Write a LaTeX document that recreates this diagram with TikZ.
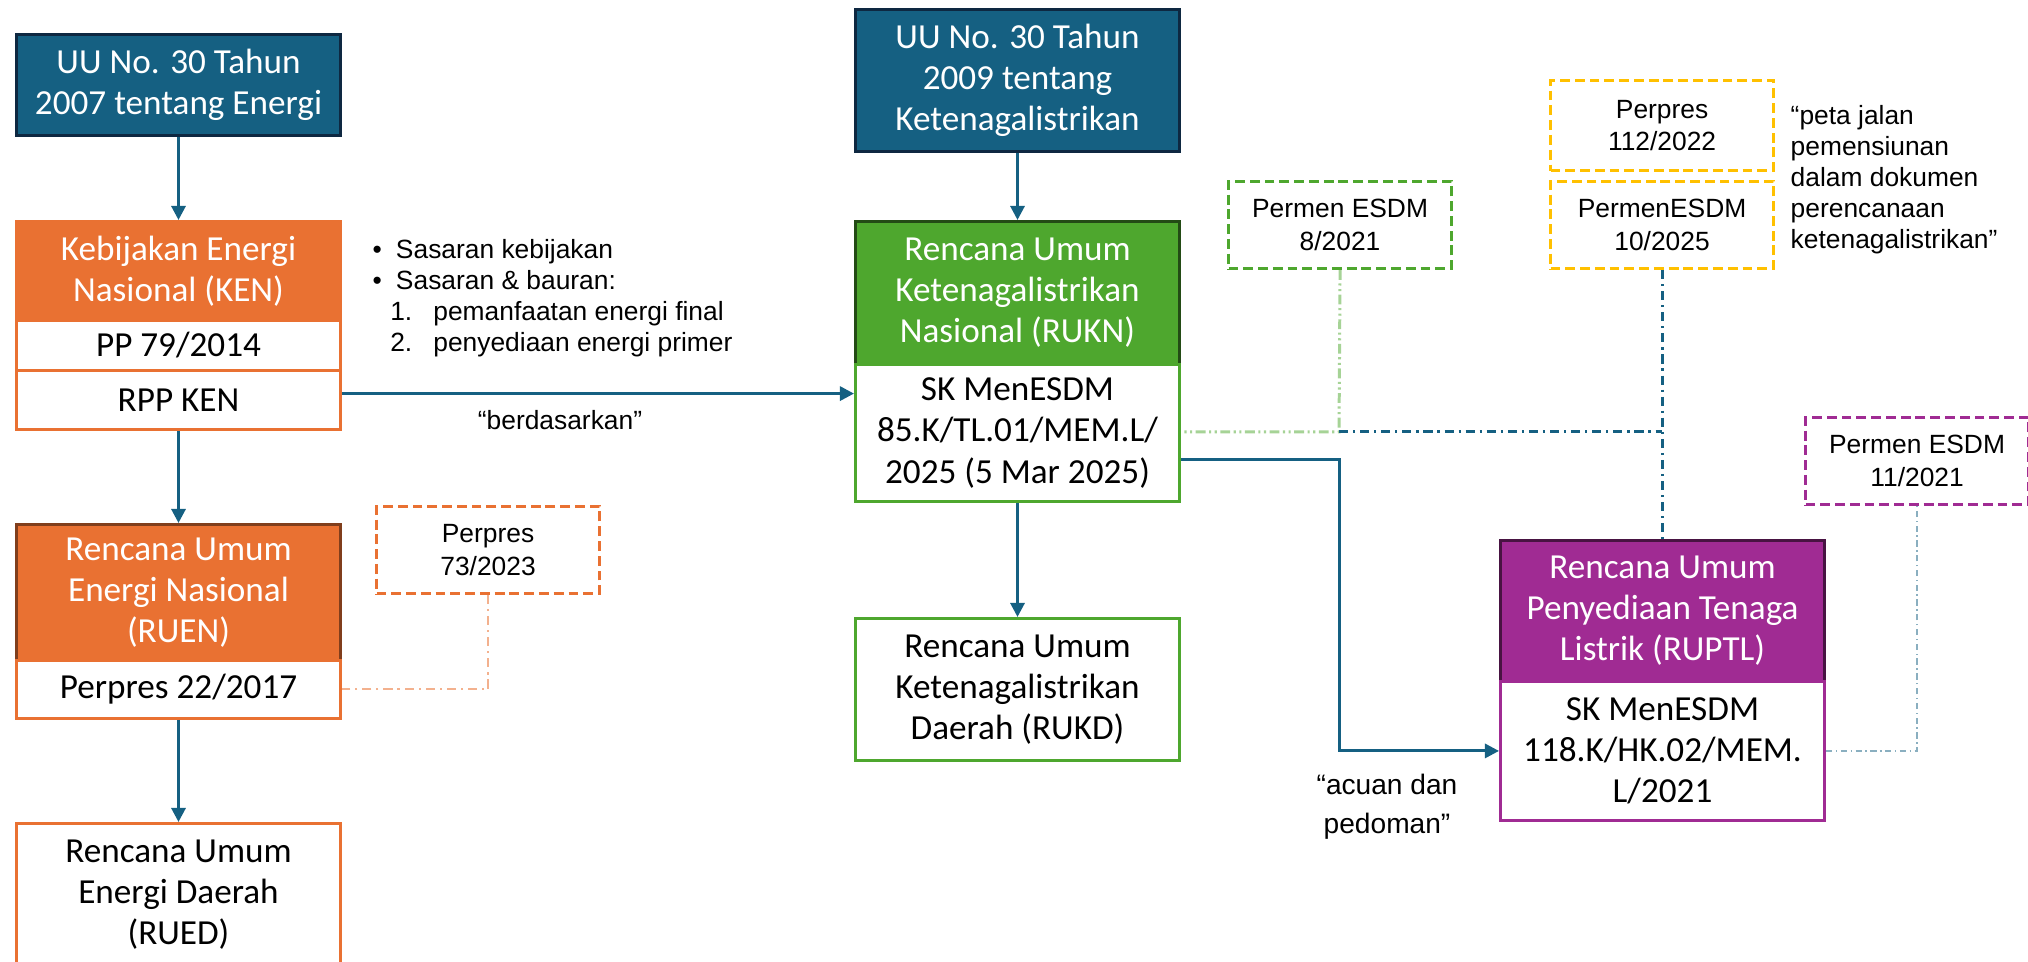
\documentclass[tikz,border=0pt]{standalone}
\usepackage{fontspec}
\setmainfont{Carlito}
\newfontfamily\notefont{Liberation Sans}
\usetikzlibrary{arrows.meta}

\definecolor{lawblue}{HTML}{156082}
\definecolor{lawdark}{HTML}{0E2841}
\definecolor{kenorange}{HTML}{E97132}
\definecolor{ruknGreen}{HTML}{4EA72E}
\definecolor{ruptlPurple}{HTML}{A02B93}
\definecolor{refyellow}{HTML}{FFC000}

\begin{document}
\begin{tikzpicture}[x=0.01cm,y=-0.01cm,
    box/.style={draw, anchor=north west, align=center, inner sep=0pt,
      minimum width=3.24cm, line width=0.8pt, font=\fontsize{10}{11.7}\selectfont},
    head/.style={box, text=white},
    row/.style={box, fill=white, text=black},
    refbox/.style={draw, anchor=north west, align=center, inner sep=0pt,
      minimum width=2.23cm, minimum height=0.87cm, line width=0.85pt,
      dash pattern=on 2.8pt off 1.4pt, font=\notefont\fontsize{7.5}{9.3}\selectfont},
    note/.style={align=left, inner sep=0pt, font=\notefont\fontsize{7.5}{8.8}\selectfont},
    link/.style={draw=lawblue, line width=0.85pt, -{Triangle[length=4pt,width=4pt]}},
    dashdot/.style={line width=0.85pt, dash pattern=on 2.6pt off 1.4pt on 0.6pt off 1.4pt},
    dashdotdot/.style={line width=0.85pt, dash pattern=on 2.8pt off 1pt on 0.6pt off 1pt on 0.6pt off 1pt},
    thindashdot/.style={line width=0.6pt, dash pattern=on 1.8pt off 1pt on 0.4pt off 1pt}]
  \useasboundingbox (0,0) rectangle (2028,962);

  % energi
  \node[head, fill=lawblue, draw=lawdark, minimum height=1.01cm] (uuE) at (15,33) {UU No. 30 Tahun\\2007 tentang Energi};
  \node[head, fill=kenorange, draw=kenorange, minimum height=0.99cm] (ken) at (15,220) {Kebijakan Energi\\Nasional (KEN)};
  \node[row, draw=kenorange, minimum height=0.5cm] (pp79) at (15,319) {PP 79/2014};
  \node[row, draw=kenorange, minimum height=0.59cm] (rppKen) at (15,369) {RPP KEN};
  \node[head, fill=kenorange, draw=kenorange!55!black, minimum height=1.36cm] (ruen) at (15,523) {Rencana Umum\\Energi Nasional\\(RUEN)};
  \node[row, draw=kenorange, minimum height=0.58cm] (pp22) at (15,659) {Perpres 22/2017};
  \node[row, draw=kenorange, minimum height=1.42cm] (rued) at (15,822) {Rencana Umum\\Energi Daerah\\(RUED)};
  \node[refbox, draw=kenorange] (p73) at (375,505) {Perpres\\73/2023};

  \node[note, anchor=west] (goals) at (372,298) {\textbullet\hspace{4pt}Sasaran kebijakan\\
    \textbullet\hspace{4pt}Sasaran \& bauran:\\
    \hspace{5pt}1.\hspace{6pt}pemanfaatan energi final\\
    \hspace{5pt}2.\hspace{6pt}penyediaan energi primer};
  \node[note] (based) at (560,420) {“berdasarkan”};

  % ketenagalistrikan
  \node[head, fill=lawblue, draw=lawdark, minimum height=1.42cm] (uuK) at (854,8) {UU No. 30 Tahun\\2009 tentang\\Ketenagalistrikan};
  \node[head, fill=ruknGreen, draw=ruknGreen!45!black, minimum height=1.43cm] (rukn) at (854,220) {Rencana Umum\\Ketenagalistrikan\\Nasional (RUKN)};
  \node[row, draw=ruknGreen, minimum height=1.37cm] (sk85) at (854,363) {SK MenESDM\\85.K/TL.01/MEM.L/\\2025 (5 Mar 2025)};
  \node[row, draw=ruknGreen, minimum height=1.42cm] (rukd) at (854,617) {Rencana Umum\\Ketenagalistrikan\\Daerah (RUKD)};
  \node[refbox, draw=ruknGreen] (p8) at (1227,180) {Permen ESDM\\8/2021};

  \node[refbox, draw=refyellow, minimum height=0.9cm] (p112) at (1549,79) {Perpres\\112/2022};
  \node[refbox, draw=refyellow] (pm10) at (1549,180) {PermenESDM\\10/2025};
  \node[note, anchor=west] (roadmap) at (1790,180) {“peta jalan\\pemensiunan\\dalam dokumen\\perencanaan\\ketenagalistrikan”};

  \node[head, fill=ruptlPurple, draw=ruptlPurple!45!black, minimum height=1.41cm] (ruptl) at (1499,539) {Rencana Umum\\Penyediaan Tenaga\\Listrik (RUPTL)};
  \node[row, draw=ruptlPurple, minimum height=1.39cm] (sk118) at (1499,680) {SK MenESDM\\118.K/HK.02/MEM.\\L/2021};
  \node[refbox, draw=ruptlPurple] (p11) at (1804,416) {Permen ESDM\\11/2021};
  \node[note, align=center, font=\notefont\fontsize{8}{11}\selectfont] (guide) at (1387,807) {“acuan dan\\pedoman”};

  \coordinate (meet) at (1339,432);
  \coordinate (split) at (1339,460);

  % solid links
  \draw[link] (uuE) -- (ken);
  \draw[link] (rppKen) -- (ruen);
  \draw[link] (pp22) -- (rued);
  \draw[link] (uuK) -- (rukn);
  \draw[link] (sk85) -- (rukd);
  \draw[link] ([yshift=1.8pt]rppKen.east) -- ([yshift=1.8pt]rppKen.east -| sk85.west);
  \draw[link] (split -| sk85.east) -- (split) |- (sk118.west);

  % references
  \draw[dashdot, draw=kenorange!55, line width=0.6pt] (p73.south) |- (pp22.east);
  \draw[dashdotdot, draw=ruknGreen!50] (p8.south) -- (meet) -- (meet -| sk85.east);
  \draw[dashdot, draw=lawblue] (meet) -- (meet -| pm10.south);
  \draw[dashdot, draw=lawblue] (pm10.south) -- (pm10.south |- ruptl.north);
  \draw[thindashdot, draw=lawblue!50] (sk118.east) -| (p11.south);
\end{tikzpicture}
\end{document}
